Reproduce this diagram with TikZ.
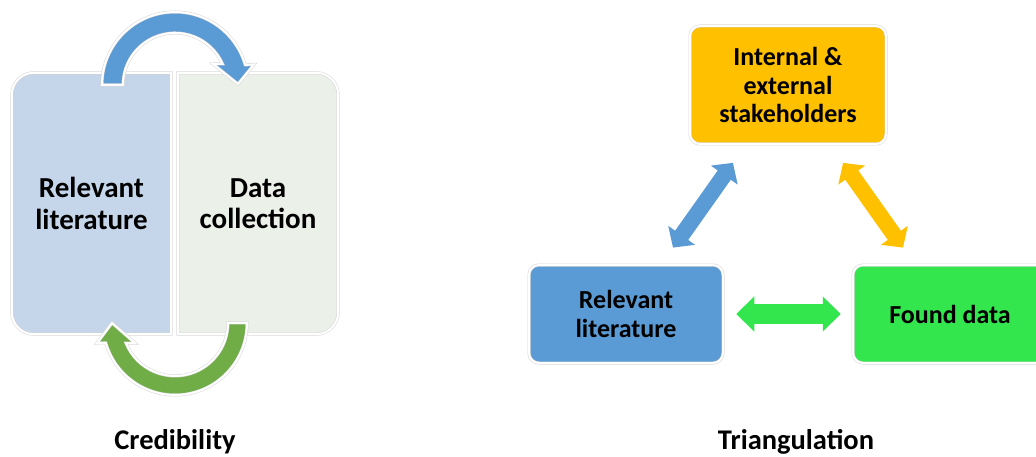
\documentclass[tikz,border=0pt]{standalone}
\usepackage{fontspec}
\setmainfont{Carlito}
\usetikzlibrary{arrows.meta,calc,backgrounds}

\definecolor{paleblue}{HTML}{C5D5EA}
\definecolor{palegreen}{HTML}{EBF0E8}
\definecolor{arcblue}{HTML}{5B9BD5}
\definecolor{arcgreen}{HTML}{70AD47}
\definecolor{amber}{HTML}{FFC000}
\definecolor{brightgreen}{HTML}{33E64D}

\tikzset{
  rim/.style={draw=black!16, double=white, double distance=2pt, line width=0.5pt},
  biglabel/.style={align=center, inner sep=0pt, font=\fontsize{29}{31.5}\selectfont\bfseries},
  card/.style={rim, rounded corners=10pt, minimum width=194pt, minimum height=98pt,
    inner sep=0pt, align=center, font=\fontsize{26}{28.5}\selectfont\bfseries},
  caption/.style={inner sep=0pt, font=\fontsize{28.5}{30}\selectfont\bfseries},
  dblarrow/.style n args={3}{line width=#1,
    {Triangle[length=#2,width=#3]}-{Triangle[length=#2,width=#3]}}
}

\begin{document}
\begin{tikzpicture}[x=1pt,y=1pt]
\useasboundingbox (0,0) rectangle (1036,-457);
\clip (0,0) rectangle (1036,-457);

% ---------- Credibility: two halves of a rounded panel ----------
\node[biglabel, minimum width=159pt, minimum height=261pt] (lit1) at (91.5,-203.5) {Relevant\\literature};
\node[biglabel, minimum width=160pt, minimum height=261pt] (data1) at (258,-203.5) {Data\\collection};

\begin{scope}[on background layer]
  \fill[white] (0,0) rectangle (1036,-457);
  \path[fill=paleblue, rim] (lit1.north east) -- ([xshift=22pt]lit1.north west)
    arc[start angle=90, end angle=180, radius=22pt] -- ([yshift=22pt]lit1.south west)
    arc[start angle=180, end angle=270, radius=22pt] -- (lit1.south east) -- cycle;
  \path[fill=palegreen, rim] (data1.north west) -- ([xshift=-22pt]data1.north east)
    arc[start angle=90, end angle=0, radius=22pt] -- ([yshift=22pt]data1.south east)
    arc[start angle=0, end angle=-90, radius=22pt] -- (data1.south west) -- cycle;
\end{scope}

% circular arrow over the top
\path[fill=arcblue, rim] (102,-85) arc[start angle=180, end angle=16, radius=73pt]
  -- (254,-64.5) -- (238,-84) -- (213,-64) -- (222.5,-63.8)
  arc[start angle=24, end angle=180, radius=52pt] -- cycle;

% circular arrow underneath
\path[fill=arcgreen, rim] (247,-323) arc[start angle=0, end angle=-164, radius=72pt]
  -- (97,-343) -- (112,-323) -- (135,-343) -- (125.9,-343)
  arc[start angle=-157.8, end angle=0, radius=53pt] -- cycle;

\node[caption, anchor=base] (cred) at (175,-449) {Credibility};

% ---------- Triangulation ----------
\node[card, fill=amber, minimum width=196pt, minimum height=118pt] (stake) at (788,-85)
  {Internal \&\\external\\stakeholders};
\node[card, fill=arcblue] (lit2) at (626,-314) {Relevant\\literature};
\node[card, fill=brightgreen] (found) at (950,-314) {Found data};

\draw[dblarrow={16pt}{15pt}{32pt}, draw=arcblue]
  ($(lit2.center)!0.29!(stake.center)$) -- ($(lit2.center)!0.66!(stake.center)$);
\draw[dblarrow={16pt}{15pt}{32pt}, draw=amber]
  ($(found.center)!0.29!(stake.center)$) -- ($(found.center)!0.66!(stake.center)$);
\draw[dblarrow={20pt}{18pt}{34pt}, draw=brightgreen]
  ([xshift=13pt]lit2.east) -- ([xshift=-12pt]found.west);

\node[caption, anchor=base] (tri) at (796,-449) {Triangulation};
\end{tikzpicture}
\end{document}
